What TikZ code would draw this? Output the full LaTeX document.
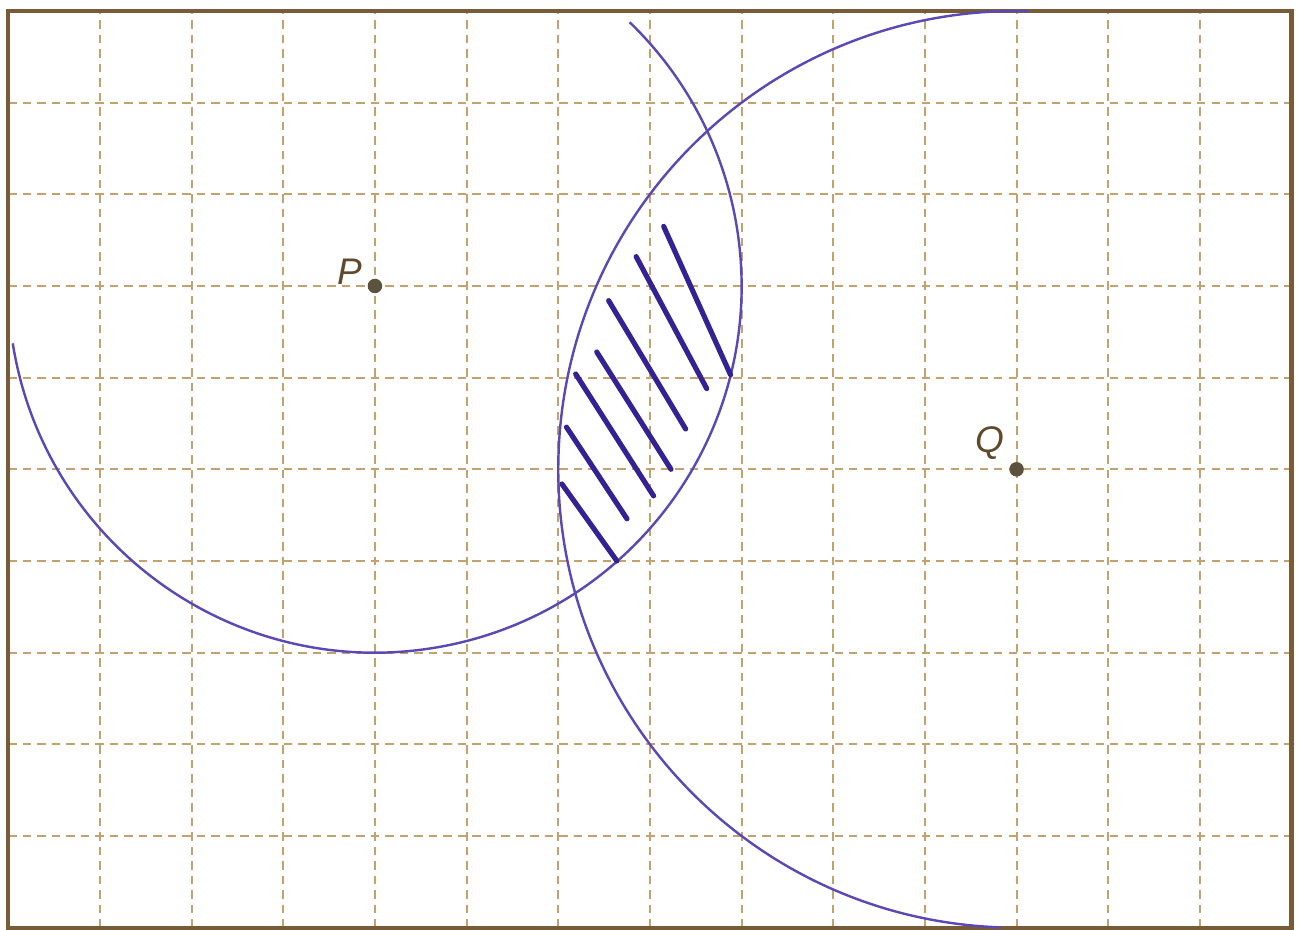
\documentclass[tikz,border=0pt]{standalone}
\usepackage{fontspec}
\setsansfont{Liberation Sans}
\usetikzlibrary{positioning}

\definecolor{framebrown}{RGB}{120,92,55}
\definecolor{gridtan}{RGB}{196,162,110}
\definecolor{arcpurple}{RGB}{92,72,180}
\definecolor{hatchblue}{RGB}{52,34,148}
\definecolor{dotgray}{RGB}{92,82,62}

\begin{document}
\begin{tikzpicture}[
  gridline/.style={draw=gridtan,line width=0.6pt,dash pattern=on 2.6pt off 1.9pt},
  arcline/.style={draw=arcpurple,line width=0.75pt},
  hatchline/.style={draw=hatchblue,line width=1.6pt,line cap=round},
  dot/.style={circle,fill=dotgray,inner sep=0pt,minimum size=4.5pt},
  lbl/.style={inner sep=0pt,text=framebrown!80!black,font=\sffamily\itshape\fontsize{11.5}{13}\selectfont}]
\useasboundingbox (-0.09,-0.02) rectangle (14.07,10.12);
\draw[gridline] (0,0) grid (14,10);
\draw[framebrown,line width=1.3pt] (0,0) rectangle (14,10);
% centres
\node[dot] (P) at (4,7) {};
\node[dot] (Q) at (11,5) {};
\node[lbl,above left=-1.5pt and 2pt of P] (Pname) {P};
\node[lbl,above left=1pt and 2pt of Q] (Qname) {Q};
% the two arcs
\draw[arcline] (P.center) ++(189:4) arc[start angle=189,end angle=406,radius=4];
\draw[arcline] (Q.center) ++(88.5:5) arc[start angle=88.5,end angle=268,radius=5];
% hatching of the common part
\draw[hatchline] (7.15,7.65) -- (7.88,6.03);
\draw[hatchline] (6.85,7.32) -- (7.62,5.88);
\draw[hatchline] (6.55,6.84) -- (7.39,5.44);
\draw[hatchline] (6.42,6.28) -- (7.23,5.00);
\draw[hatchline] (6.19,6.04) -- (7.04,4.71);
\draw[hatchline] (6.09,5.46) -- (6.75,4.46);
\draw[hatchline] (6.04,4.84) -- (6.64,4.00);
\end{tikzpicture}
\end{document}
